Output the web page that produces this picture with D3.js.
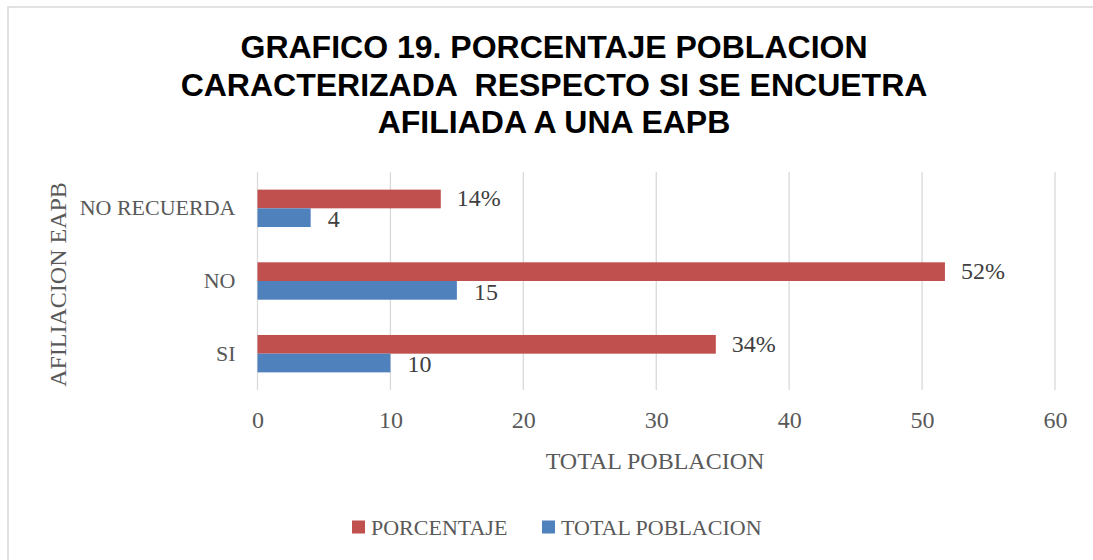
<!DOCTYPE html>
<html>
<head>
<meta charset="utf-8">
<style>
  body { margin: 0; background: #fff; }
  svg { display: block; }
</style>
</head>
<body>
<svg></svg>
<script src="https://cdnjs.cloudflare.com/ajax/libs/d3/7.8.5/d3.min.js"></script>
<script>
// chart data
var categories = ["NO RECUERDA", "NO", "SI"];
var totalPoblacion = [4, 15, 10];
var porcentaje = [13.79, 51.72, 34.48];
var porcentajeLabels = ["14%", "52%", "34%"];
var xTicks = [0, 10, 20, 30, 40, 50, 60];
var seriesNames = ["PORCENTAJE", "TOTAL POBLACION"];
var seriesColors = ["#C0504D", "#4F81BD"];
var titleLines = ["GRAFICO 19. PORCENTAJE POBLACION",
                  "CARACTERIZADA  RESPECTO SI SE ENCUETRA",
                  "AFILIADA A UNA EAPB"];

var width = 1093, height = 560;
var serif = "'Liberation Serif', 'DejaVu Serif', serif";
var textGray = "#595959";

var svg = d3.select("svg")
    .attr("width", width)
    .attr("height", height);

// outer frame (only top and left edges visible in the picture)
svg.append("rect")
    .attr("x", 8).attr("y", 7)
    .attr("width", 1100).attr("height", 570)
    .attr("fill", "none")
    .attr("stroke", "#d9d9d9")
    .attr("stroke-width", 1.5);

// title
svg.append("text")
    .attr("text-anchor", "middle")
    .style("font-family", "'Liberation Sans', Arial, sans-serif")
    .style("font-weight", "bold")
    .style("font-size", "32px")
    .style("white-space", "pre")
    .attr("fill", "#000")
    .selectAll("tspan")
    .data(titleLines)
    .enter()
    .append("tspan")
    .attr("x", 554)
    .attr("y", function(d, i) { return 58 + i * 37.5; })
    .text(function(d) { return d; });

// plot area
var margin = {top: 172, right: 38, bottom: 170, left: 257.5};
var x = d3.scaleLinear()
    .domain([0, 60])
    .range([margin.left, width - margin.right]);
var y = d3.scaleBand()
    .domain(categories)
    .range([margin.top, height - margin.bottom]);

// gridlines
svg.append("g")
    .selectAll("line")
    .data(xTicks)
    .enter()
    .append("line")
    .attr("x1", function(d) { return x(d); })
    .attr("x2", function(d) { return x(d); })
    .attr("y1", y.range()[0])
    .attr("y2", y.range()[1])
    .attr("stroke", "#d9d9d9")
    .attr("stroke-width", 1.3);

// x axis labels
var xAxis = svg.append("g")
    .attr("transform", "translate(0," + y.range()[1] + ")")
    .call(d3.axisBottom(x).tickValues(xTicks).tickSize(0).tickPadding(21));
xAxis.select(".domain").remove();
xAxis.selectAll("text")
    .style("font-family", serif)
    .style("font-size", "24px")
    .attr("fill", textGray);

// y axis labels
var yAxis = svg.append("g")
    .attr("transform", "translate(" + margin.left + ",0)")
    .call(d3.axisLeft(y).tickSize(0).tickPadding(22));
yAxis.select(".domain").remove();
yAxis.selectAll("text")
    .style("font-family", serif)
    .style("font-size", "22px")
    .attr("fill", textGray);

var barH = 18.7;
var rows = categories.map(function(c, i) {
    return {cat: c, pct: porcentaje[i], pctLabel: porcentajeLabels[i], total: totalPoblacion[i]};
});

// red bars (PORCENTAJE)
svg.append("g")
    .selectAll("rect")
    .data(rows)
    .enter()
    .append("rect")
    .attr("x", x(0))
    .attr("y", function(d) { return y(d.cat) + y.bandwidth() / 2 - barH; })
    .attr("width", function(d) { return x(d.pct) - x(0); })
    .attr("height", barH)
    .attr("fill", seriesColors[0]);

// blue bars (TOTAL POBLACION)
svg.append("g")
    .selectAll("rect")
    .data(rows)
    .enter()
    .append("rect")
    .attr("x", x(0))
    .attr("y", function(d) { return y(d.cat) + y.bandwidth() / 2; })
    .attr("width", function(d) { return x(d.total) - x(0); })
    .attr("height", barH)
    .attr("fill", seriesColors[1]);

// value labels
svg.append("g")
    .selectAll("text")
    .data(rows)
    .enter()
    .append("text")
    .attr("x", function(d) { return x(d.pct) + 16; })
    .attr("y", function(d) { return y(d.cat) + y.bandwidth() / 2 - barH / 2 - 1; })
    .attr("dy", "0.35em")
    .style("font-family", serif)
    .style("font-size", "24px")
    .attr("fill", "#404040")
    .text(function(d) { return d.pctLabel; });

svg.append("g")
    .selectAll("text")
    .data(rows)
    .enter()
    .append("text")
    .attr("x", function(d) { return x(d.total) + 17; })
    .attr("y", function(d) { return y(d.cat) + y.bandwidth() / 2 + barH / 2 + 1; })
    .attr("dy", "0.35em")
    .style("font-family", serif)
    .style("font-size", "24px")
    .attr("fill", "#404040")
    .text(function(d) { return d.total; });

// axis titles
svg.append("text")
    .attr("x", 655)
    .attr("y", 469)
    .attr("text-anchor", "middle")
    .style("font-family", serif)
    .style("font-size", "24px")
    .attr("fill", textGray)
    .text("TOTAL POBLACION");

svg.append("text")
    .attr("transform", "translate(66,284.5) rotate(-90)")
    .attr("text-anchor", "middle")
    .style("font-family", serif)
    .style("font-size", "24px")
    .attr("fill", textGray)
    .text("AFILIACION EAPB");

// legend
var legendX = [352, 542];
var legend = svg.append("g")
    .selectAll("g")
    .data(seriesNames)
    .enter()
    .append("g")
    .attr("transform", function(d, i) { return "translate(" + legendX[i] + ",527)"; });
legend.append("rect")
    .attr("x", 0).attr("y", -6.5)
    .attr("width", 13).attr("height", 13)
    .attr("fill", function(d, i) { return seriesColors[i]; });
legend.append("text")
    .attr("x", 19)
    .attr("dy", "0.35em")
    .style("font-family", serif)
    .style("font-size", "22px")
    .attr("fill", textGray)
    .text(function(d) { return d; });
</script>
</body>
</html>
